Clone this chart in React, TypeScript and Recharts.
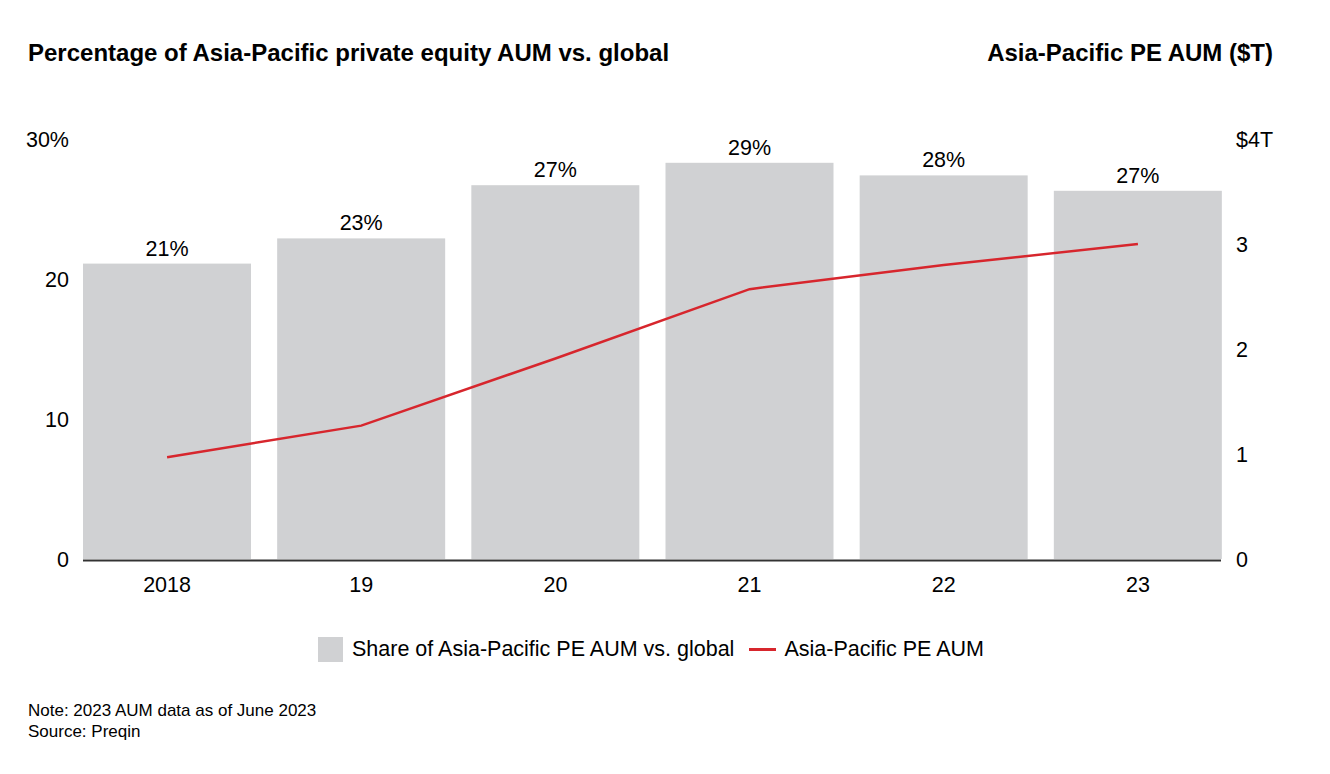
import React from 'react'
import {
  ComposedChart,
  Bar,
  Line,
  XAxis,
  YAxis,
  LabelList,
} from 'recharts'

const years = ['2018', '19', '20', '21', '22', '23']
const sharePct = [21.1, 22.9, 26.7, 28.3, 27.4, 26.3]
const shareLabels = ['21%', '23%', '27%', '29%', '28%', '27%']
const aumTrillions = [0.97, 1.27, 1.91, 2.57, 2.8, 3.0]
const leftTicks = [0, 10, 20, 30]
const rightTicks = [0, 1, 2, 3, 4]

const data = years.map((year, i) => ({
  year,
  share: sharePct[i],
  label: shareLabels[i],
  aum: aumTrillions[i],
}))

const FONT = '"Liberation Sans", Arial, Helvetica, sans-serif'
const GREY = '#d0d1d3'
const RED = '#d7262d'
const FS = 21.5
const GAP = 13

// bar; the first one also draws the baseline, which only spans the bars
function BarWithBase(props: any) {
  const { x, y, width, height, index } = props
  const n = years.length
  const total = n * width + (n - 1) * 2 * GAP
  return (
    <g>
      <rect x={x} y={y} width={width} height={height} fill={GREY} />
      {index === 0 && (
        <line x1={x} x2={x + total} y1={y + height + 1.5} y2={y + height + 1.5} stroke="#333" strokeWidth={2} />
      )}
    </g>
  )
}

export default function App() {
  return (
    <div style={{ position: 'absolute', left: 0, top: 0, width: 1330, height: 774, fontFamily: FONT, background: '#fff' }}>
      <div style={{ position: 'absolute', left: 28, top: 39, fontSize: 24, fontWeight: 700, color: '#000' }}>
        Percentage of Asia-Pacific private equity AUM vs. global
      </div>
      <div style={{ position: 'absolute', right: 57, top: 39, fontSize: 24, fontWeight: 700, color: '#000' }}>
        Asia-Pacific PE AUM ($T)
      </div>

      <ComposedChart
        width={1330}
        height={620}
        data={data}
        margin={{ top: 139, right: 0, bottom: 21, left: 0 }}
        barCategoryGap={GAP}
        style={{ position: 'absolute', left: 0, top: 0 }}
      >
        <XAxis
          dataKey="year"
          axisLine={false}
          tickLine={false}
          tickSize={0}
          tickMargin={18}
          height={40}
          tick={{ fill: '#000', fontSize: FS, fontFamily: FONT }}
        />
        <YAxis
          yAxisId="left"
          domain={[0, 30]}
          ticks={leftTicks}
          width={70}
          axisLine={false}
          tickLine={false}
          tickSize={0}
          tickMargin={1}
          tickFormatter={(v: number) => (v === 30 ? '30%' : String(v))}
          tick={{ fill: '#000', fontSize: FS, fontFamily: FONT }}
        />
        <YAxis
          yAxisId="right"
          orientation="right"
          domain={[0, 4]}
          ticks={rightTicks}
          width={95}
          axisLine={false}
          tickLine={false}
          tickSize={0}
          tickMargin={1}
          tickFormatter={(v: number) => (v === 4 ? '$4T' : String(v))}
          tick={{ fill: '#000', fontSize: FS, fontFamily: FONT, textAnchor: 'start' }}
        />
        <Bar yAxisId="left" dataKey="share" fill={GREY} shape={<BarWithBase />} isAnimationActive={false}>
          <LabelList dataKey="label" position="top" offset={8} fill="#000" fontSize={FS} fontFamily={FONT} />
        </Bar>
        <Line
          yAxisId="right"
          type="linear"
          dataKey="aum"
          stroke={RED}
          strokeWidth={2.5}
          dot={false}
          activeDot={false}
          isAnimationActive={false}
        />
      </ComposedChart>

      <div style={{ position: 'absolute', left: 318, top: 637, display: 'flex', alignItems: 'center', fontSize: FS, color: '#000', whiteSpace: 'nowrap' }}>
        <span style={{ display: 'inline-block', width: 25, height: 25, background: GREY, marginRight: 9 }} />
        <span>Share of Asia-Pacific PE AUM vs. global</span>
        <span style={{ display: 'inline-block', width: 27, height: 2.5, background: RED, marginLeft: 15, marginRight: 8 }} />
        <span>Asia-Pacific PE AUM</span>
      </div>

      <div style={{ position: 'absolute', left: 28, top: 700, fontSize: 17, lineHeight: '21px', color: '#000' }}>
        <div>Note: 2023 AUM data as of June 2023</div>
        <div>Source: Preqin</div>
      </div>
    </div>
  )
}
